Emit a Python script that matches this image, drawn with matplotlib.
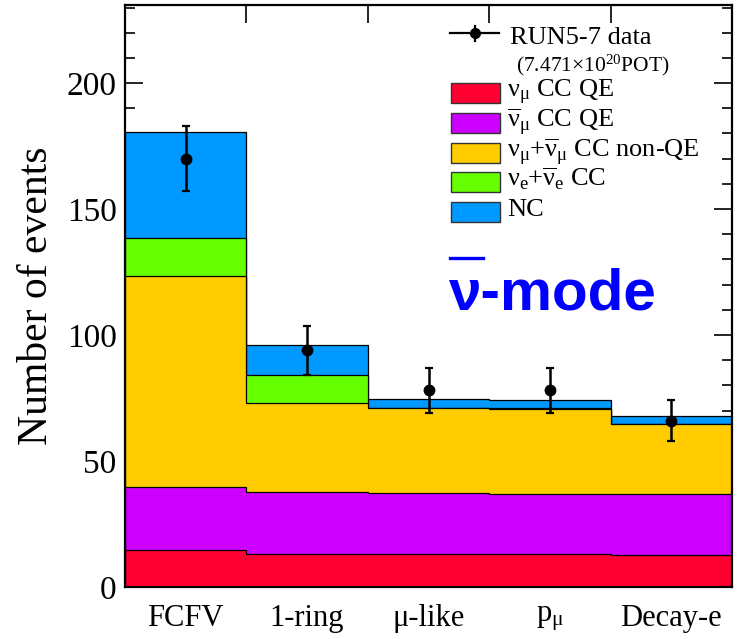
import numpy as np
import matplotlib
matplotlib.use("Agg")
import matplotlib.pyplot as plt
from matplotlib.patches import Rectangle
from matplotlib.lines import Line2D
from matplotlib.ticker import MultipleLocator, FixedLocator

# Selection stages
categories = ["FCFV", "1-ring", "μ-like", r"p$_{\mu}$", "Decay-e"]

# Expected events per interaction channel (stacked bottom to top)
numu_ccqe = [14.7, 13.2, 13.0, 13.0, 12.6]
numubar_ccqe = [25.1, 24.4, 24.2, 24.0, 24.2]
numu_cc_nonqe = [83.5, 35.5, 33.7, 33.8, 27.8]
nue_cc = [15.1, 11.0, 0.2, 0.2, 0.2]
nc = [42.3, 11.9, 3.4, 3.2, 3.2]

# Observed data and statistical errors
data_counts = [170, 94, 78, 78, 66]
data_errors = [13.0, 9.7, 8.8, 8.8, 8.1]

channel_labels = [
    r"$\nu_{\mu}$ CC QE",
    r"$\overline{\nu}_{\mu}$ CC QE",
    r"$\nu_{\mu}$+$\overline{\nu}_{\mu}$ CC non-QE",
    r"$\nu_{e}$+$\overline{\nu}_{e}$ CC",
    "NC",
]
channel_colors = ["#ff0033", "#cc00ff", "#ffcc00", "#66ff00", "#0099ff"]

plt.rcParams["font.family"] = ["Liberation Serif", "DejaVu Serif"]
plt.rcParams["mathtext.fontset"] = "custom"
plt.rcParams["mathtext.rm"] = "Liberation Serif"
plt.rcParams["mathtext.it"] = "Liberation Serif:italic"
plt.rcParams["mathtext.bf"] = "Liberation Serif:bold"
plt.rcParams["mathtext.default"] = "rm"

W, H = 744, 639
fig = plt.figure(figsize=(W / 100, H / 100), dpi=100)
ax = fig.add_axes([125 / W, (H - 587) / H, 607 / W, 582 / H])

edges = np.arange(len(categories) + 1)
centers = edges[:-1] + 0.5

stack = np.array([numu_ccqe, numubar_ccqe, numu_cc_nonqe, nue_cc, nc])
cumulative = np.cumsum(stack, axis=0)

# Draw from the top layer downwards so each lower layer covers the ones above it
for i in range(len(stack) - 1, -1, -1):
    ax.stairs(cumulative[i], edges, baseline=0, fill=True,
              facecolor=channel_colors[i], edgecolor="black",
              linewidth=0.9, zorder=2 + (len(stack) - i))

ax.errorbar(centers, data_counts, yerr=data_errors, fmt="o", color="black",
            ms=7.5, elinewidth=1.8, capsize=3, capthick=1.6, zorder=20)

ax.set_xlim(0, len(categories))
ax.set_ylim(0, 231)

# Axis ticks: bin boundaries on x, labels at bin centres
ax.xaxis.set_major_locator(FixedLocator(edges[1:-1]))
ax.xaxis.set_minor_locator(FixedLocator(centers))
ax.set_xticklabels([], minor=False)
ax.set_xticklabels(categories, minor=True)
ax.tick_params(axis="x", which="major", direction="in", top=True, bottom=True,
               length=13, width=1.2)
ax.tick_params(axis="x", which="minor", length=0, pad=12, labelsize=22)

ax.yaxis.set_major_locator(MultipleLocator(50))
ax.yaxis.set_minor_locator(MultipleLocator(10))
ax.tick_params(axis="y", which="major", direction="in", left=True, right=True,
               length=13, width=1.2, labelsize=24, pad=6)
ax.tick_params(axis="y", which="minor", direction="in", left=True, right=True,
               length=7, width=1.2)

for s in ax.spines.values():
    s.set_linewidth(1.6)
    s.set_zorder(30)

fig.text(37 / W, 1 - 296 / H, "Number of events", rotation=90,
         ha="center", va="center", fontsize=30)


def fx(px):
    return px / W


def fy(py):
    return 1 - py / H


# Legend: data entry
fig.add_artist(Line2D([fx(450), fx(499)], [fy(33), fy(33)],
                      transform=fig.transFigure, color="black", lw=1.6))
fig.add_artist(Line2D([fx(474.5), fx(474.5)], [fy(26), fy(41)],
                      transform=fig.transFigure, color="black", lw=1.6))
fig.add_artist(Line2D([fx(474.5)], [fy(33)], transform=fig.transFigure,
                      color="black", marker="o", ms=7))
fig.text(fx(510), fy(44.5), "RUN5-7 data", fontsize=19, va="baseline")
fig.text(fx(516), fy(71.5), r"(7.471$\times$10$^{20}$POT)", fontsize=15.5,
         va="baseline")

# Legend: channel entries
box_tops = [83.3, 113.3, 142.7, 172.0, 201.5]
for top, lab, col in zip(box_tops, channel_labels, channel_colors):
    fig.add_artist(Rectangle((fx(450.5), fy(top + 20)), fx(49), 20 / H,
                             transform=fig.transFigure, facecolor=col,
                             edgecolor="#333333", lw=1.0))
    fig.text(fx(507), fy(top + 14.5), lab, fontsize=19, va="baseline")

# Beam mode tag
fig.text(fx(449), fy(310), "ν-mode", fontfamily="Liberation Sans",
         fontweight="bold", fontsize=42, color="#0000ff", va="baseline")
fig.add_artist(Line2D([fx(450), fx(483)], [fy(258), fy(258)],
                      transform=fig.transFigure, color="#0000ff", lw=2.4))

fig.savefig("out.png", dpi=100)
